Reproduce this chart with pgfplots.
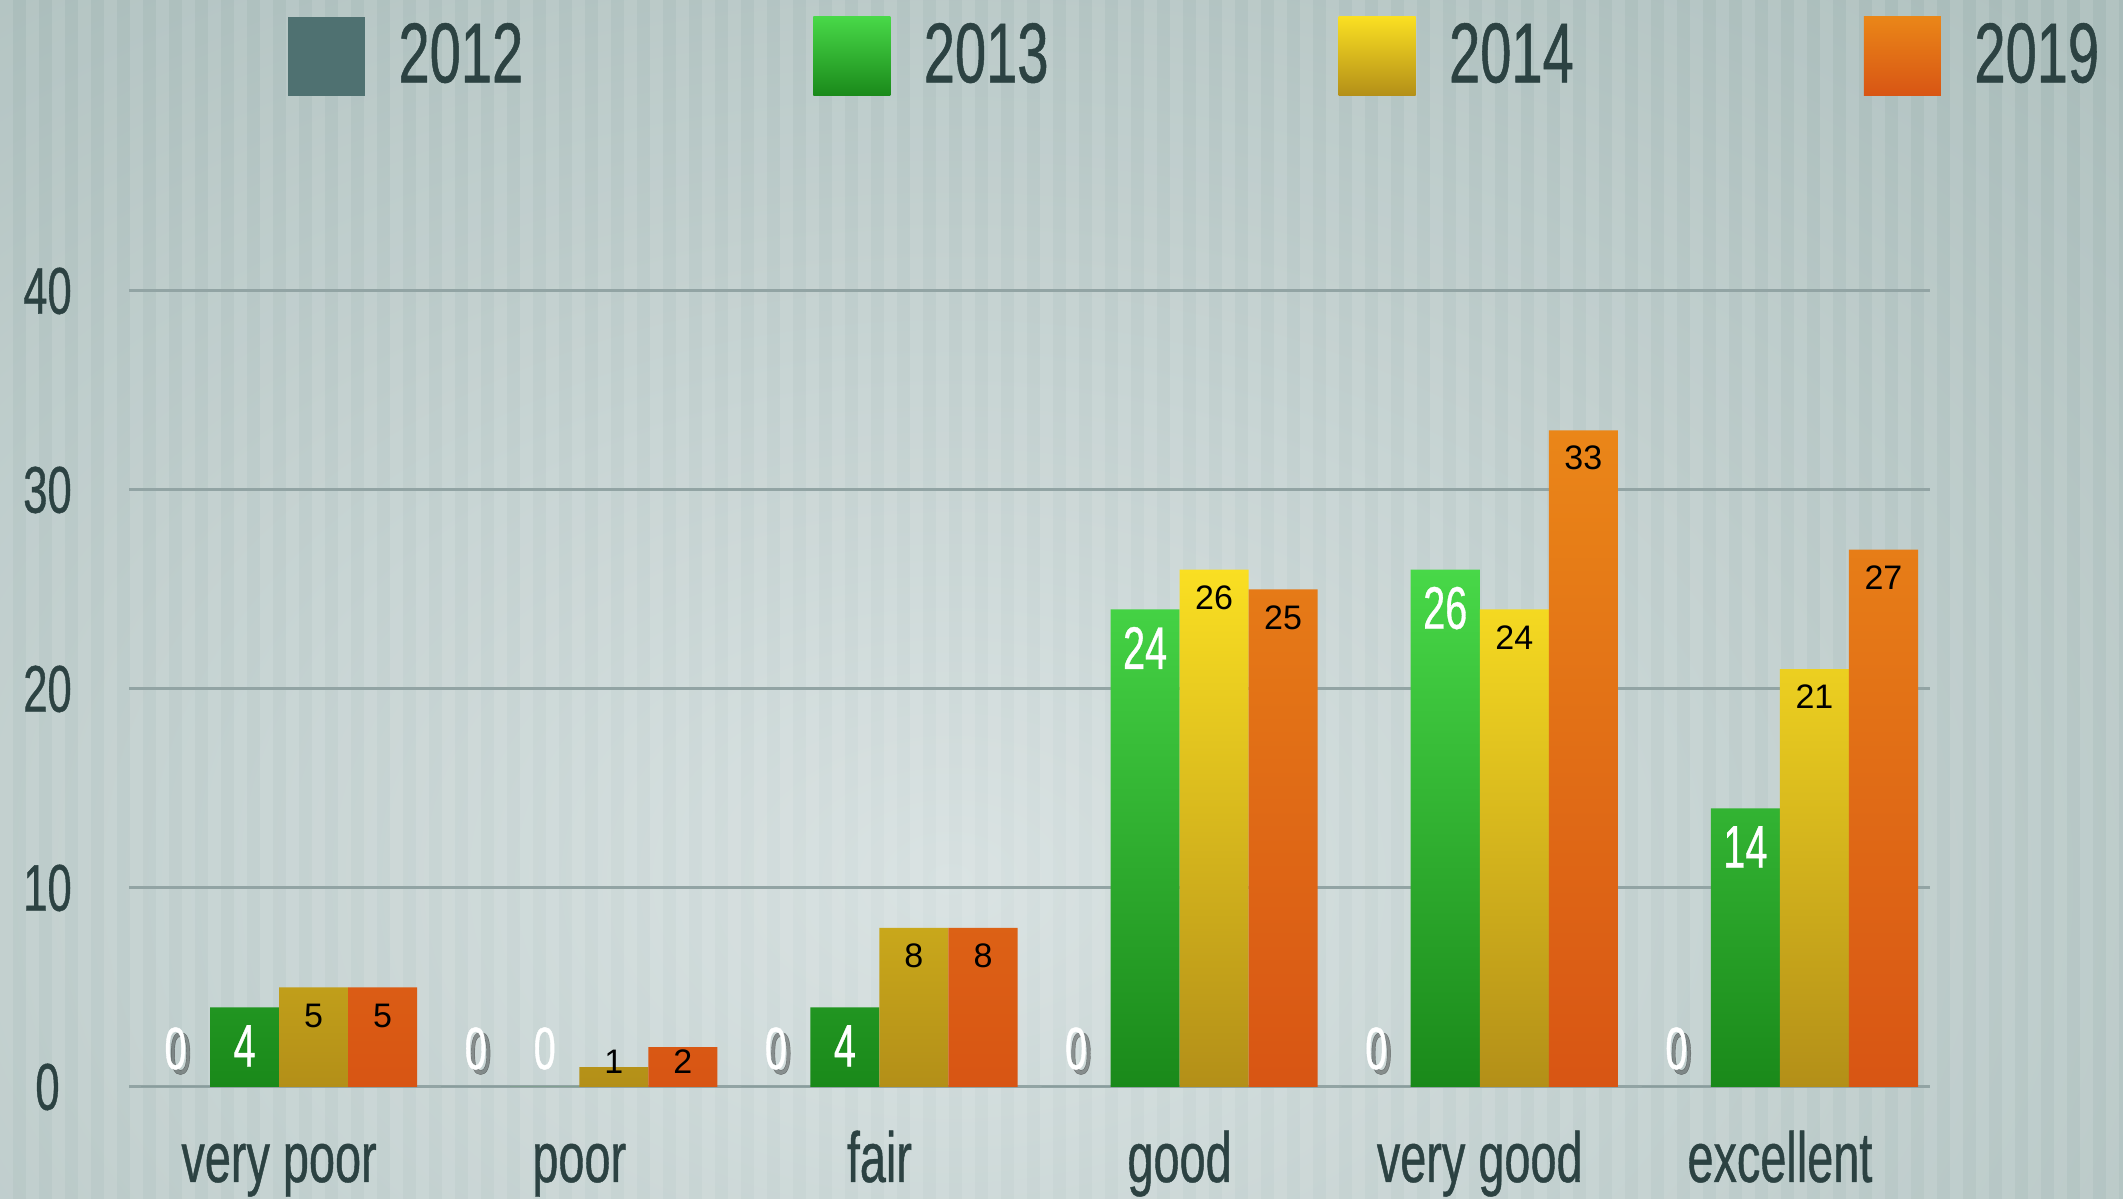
\documentclass[border=0pt]{standalone}
\usepackage{pgfplots}
\pgfplotsset{compat=1.18}
\usepackage{fontspec}
\setmainfont{Liberation Sans}[FakeStretch=0.66, FakeBold=0.6]
\newfontfamily\helv{Liberation Sans}
\definecolor{bgout}{HTML}{A9BCBA}
\definecolor{bgin}{HTML}{D6E0E0}
\definecolor{ink}{HTML}{2C4242}
\definecolor{gridc}{HTML}{92A4A4}
\definecolor{slate}{HTML}{4F7171}
\definecolor{gtop}{HTML}{48D848}
\definecolor{gbot}{HTML}{1A891A}
\definecolor{ytop}{HTML}{FADF22}
\definecolor{ybot}{HTML}{B38F18}
\definecolor{otop}{HTML}{EA8618}
\definecolor{obot}{HTML}{D85514}

\pgfplotsset{
  sq/.style={legend image code/.code={\path[##1,draw=none] (0pt,-7.9pt) rectangle (15.4pt,7.9pt);}},
}
\tikzset{
  wlab/.style={font=\fontsize{12}{12}\selectfont, text=white, anchor=center},
  blab/.style={font=\helv\fontsize{6.8}{7}\selectfont, text=black, anchor=center},
}

\begin{document}
\begin{tikzpicture}
% background
\fill[bgout] (0,0) rectangle (424.6pt,239.8pt);
\begin{scope}
\clip (0,0) rectangle (424.6pt,239.8pt);
\shade[inner color=bgin, outer color=bgout] (190pt,64pt) ellipse (330pt and 230pt);
\foreach \i in {0,...,82} \fill[white,opacity=0.11] (\i*5.2pt,0pt) rectangle ++(2.6pt,239.8pt);
\end{scope}

\begin{axis}[
  at={(25.8pt,22.4pt)}, anchor=south west,
  scale only axis, width=360.2pt, height=159.2pt,
  xmin=-0.5, xmax=5.5, ymin=0, ymax=40,
  axis line style={draw=none},
  ybar, bar width=0.23,
  ytick={0,10,20,30,40}, ymajorgrids,
  grid style={line width=0.6pt, gridc},
  xtick={0,...,5},
  xticklabels={very poor,poor,fair,good,very good,excellent},
  major tick length=0pt, tick style={draw=none},
  /pgf/number format/assume math mode=true,
  yticklabel style={font=\fontsize{13.2}{14}\selectfont, text=ink, anchor=center, xshift=-16.3pt},
  xticklabel style={font=\fontsize{14.2}{15}\selectfont, text=ink, anchor=base, yshift=-19pt},
  clip=false,
  legend columns=4,
  legend cell align=left,
  legend style={at={(0.0877,1.3505)}, anchor=north west, draw=none, fill=none,
    font=\fontsize{17}{18}\selectfont, text=ink, inner sep=0pt,
    /tikz/every odd column/.append style={column sep=4.7pt},
    /tikz/every even column/.append style={column sep=56pt}},
]
% soft shadow under the 2012 zero labels
\addplot[draw=none, fill=none, bar shift=-0.345, forget plot,
  nodes near coords,
  every node near coord/.append style={wlab, text=black, opacity=0.35, xshift=1pt, yshift=6.7pt}]
  coordinates {(0,0) (1,0) (2,0) (3,0) (4,0) (5,0)};

\addplot[fill=slate, draw=none, bar shift=-0.345, sq,
  nodes near coords,
  every node near coord/.append style={wlab, yshift=7.7pt}]
  coordinates {(0,0) (1,0) (2,0) (3,0) (4,0) (5,0)};

\addplot[top color=gtop, bottom color=gbot, draw=none, bar shift=-0.115, sq,
  visualization depends on={max(-7.7,7.7-3.98*rawy) \as \dy},
  nodes near coords,
  every node near coord/.append style={wlab, yshift=\dy pt}]
  coordinates {(0,4) (1,0) (2,4) (3,24) (4,26) (5,14)};

\addplot[top color=ytop, bottom color=ybot, draw=none, bar shift=0.115, sq,
  visualization depends on={max(-5.6,5-3.98*rawy) \as \dy},
  nodes near coords,
  every node near coord/.append style={blab, yshift=\dy pt}]
  coordinates {(0,5) (1,1) (2,8) (3,26) (4,24) (5,21)};

\addplot[top color=otop, bottom color=obot, draw=none, bar shift=0.345, sq,
  visualization depends on={max(-5.6,5-3.98*rawy) \as \dy},
  nodes near coords,
  every node near coord/.append style={blab, yshift=\dy pt}]
  coordinates {(0,5) (1,2) (2,8) (3,25) (4,33) (5,27)};

\legend{2012,2013,2014,2019}
\end{axis}
\pgfresetboundingbox
\useasboundingbox (0,0) rectangle (424.6pt,239.8pt);
\end{tikzpicture}
\end{document}
